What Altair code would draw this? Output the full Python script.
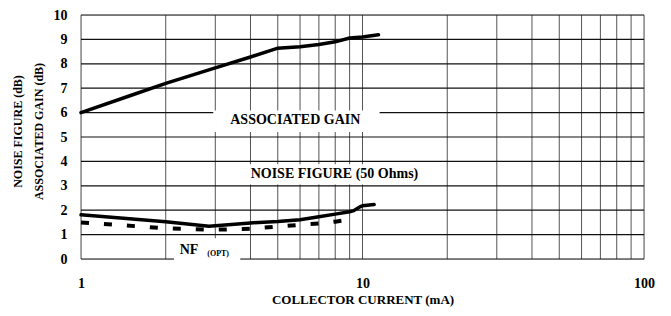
import altair as alt
import pandas as pd

# Associated gain (dB) vs collector current (mA)
gain_x = [1, 1.5, 2, 3, 4, 5, 6, 7, 8, 9, 10, 11.4]
gain_y = [6.0, 6.7, 7.2, 7.83, 8.28, 8.64, 8.7, 8.79, 8.9, 9.06, 9.1, 9.19]

# Noise figure (50 Ohms)
nf_x = [1, 2, 2.85, 4, 5, 6, 7, 8, 9, 9.3, 9.8, 10, 11]
nf_y = [1.81, 1.53, 1.34, 1.48, 1.54, 1.61, 1.73, 1.84, 1.94, 1.98, 2.14, 2.18, 2.23]

# NF(opt)
nfopt_x = [1, 2, 3, 4, 5, 6, 7, 8, 9, 9.1]
nfopt_y = [1.5, 1.26, 1.2, 1.24, 1.33, 1.4, 1.46, 1.53, 1.61, 1.62]

x_grid = [1, 2, 3, 4, 5, 6, 7, 8, 9, 10, 20, 30, 40, 50, 60, 70, 80, 90, 100]
x_labels = [1, 10, 100]
y_ticks = [0, 1, 2, 3, 4, 5, 6, 7, 8, 9, 10]

# annotation boxes and labels
box_x = [2.95, 3.34, 2.14]
box_x2 = [11.5, 19.3, 3.68]
box_y = [5.2, 3.05, -0.2]
box_y2 = [6.09, 3.88, 0.85]

lab_text = ["ASSOCIATED GAIN", "NOISE FIGURE (50 Ohms)", "NF"]
lab_x = [5.77, 7.95, 2.42]
lab_y = [5.69, 3.47, 0.36]
sub_text = ["(OPT)"]
sub_x = [3.07]
sub_y = [0.2]

FONT = "Liberation Serif"

curves = pd.concat([
    pd.DataFrame({"x": gain_x, "y": gain_y, "s": "gain"}),
    pd.DataFrame({"x": nf_x, "y": nf_y, "s": "nf"}),
])
opt_df = pd.DataFrame({"x": nfopt_x, "y": nfopt_y})
box_df = pd.DataFrame({"x": box_x, "x2": box_x2, "y": box_y, "y2": box_y2})
lab_df = pd.DataFrame({"t": lab_text, "x": lab_x, "y": lab_y})
sub_df = pd.DataFrame({"t": sub_text, "x": sub_x, "y": sub_y})
vgrid_df = pd.DataFrame({"x": x_grid})
hgrid_df = pd.DataFrame({"y": y_ticks})

xscale = alt.Scale(type="log", domain=[1, 100])
yscale = alt.Scale(domain=[0, 10], nice=False)

xaxis = alt.Axis(
    values=x_labels, format="d",
    labelPadding=17,
    title="COLLECTOR CURRENT (mA)", titleY=40, titleBaseline="middle",
)
yaxis = alt.Axis(
    values=y_ticks, format="d", labelOverlap=False, tickCount=11,
    labelPadding=14,
    title=["NOISE FIGURE (dB)", "ASSOCIATED GAIN (dB)"],
    titleFontSize=12,
    titleAngle=270, titleAlign="center", titleBaseline="middle",
    titleX=-64, titleY=116, titleLineHeight=21,
)

vgrid = alt.Chart(vgrid_df).mark_rule(color="#555555", strokeWidth=1).encode(
    x=alt.X("x:Q", scale=xscale, axis=xaxis),
)
hgrid = alt.Chart(hgrid_df).mark_rule(color="#111111", strokeWidth=1.2).encode(
    y=alt.Y("y:Q", scale=yscale, axis=yaxis),
)

lines = alt.Chart(curves).mark_line(color="black", strokeWidth=3.5, strokeCap="round").encode(
    x=alt.X("x:Q", scale=xscale),
    y=alt.Y("y:Q", scale=yscale),
    detail="s:N",
)

opt = alt.Chart(opt_df).mark_line(color="black", strokeWidth=4, strokeDash=[8, 15]).encode(
    x=alt.X("x:Q", scale=xscale),
    y=alt.Y("y:Q", scale=yscale),
)

boxes = alt.Chart(box_df).mark_rect(color="white").encode(
    x=alt.X("x:Q", scale=xscale), x2="x2:Q",
    y=alt.Y("y:Q", scale=yscale), y2="y2:Q",
)

labels = alt.Chart(lab_df).mark_text(font=FONT, fontWeight="bold", fontSize=14, color="black").encode(
    x=alt.X("x:Q", scale=xscale),
    y=alt.Y("y:Q", scale=yscale),
    text="t:N",
)

subs = alt.Chart(sub_df).mark_text(font=FONT, fontWeight="bold", fontSize=8, color="black").encode(
    x=alt.X("x:Q", scale=xscale),
    y=alt.Y("y:Q", scale=yscale),
    text="t:N",
)

chart = alt.layer(vgrid, hgrid, lines, boxes, opt, labels, subs).properties(
    width=563, height=244,
    autosize=alt.AutoSizeParams(type="none"),
    padding={"left": 73, "top": 7, "right": 19, "bottom": 49},
).configure_view(stroke=None).configure(background="white").configure_axis(
    grid=False, ticks=False, tickSize=0, domain=False,
    labelFont=FONT, labelFontWeight="bold", labelFontSize=14, labelColor="black",
    labelOverlap=False, labelFlush=False,
    titleFont=FONT, titleFontWeight="bold", titleFontSize=13, titleColor="black",
)

chart.save("out.html", embed_options={"renderer": "svg", "actions": False})
